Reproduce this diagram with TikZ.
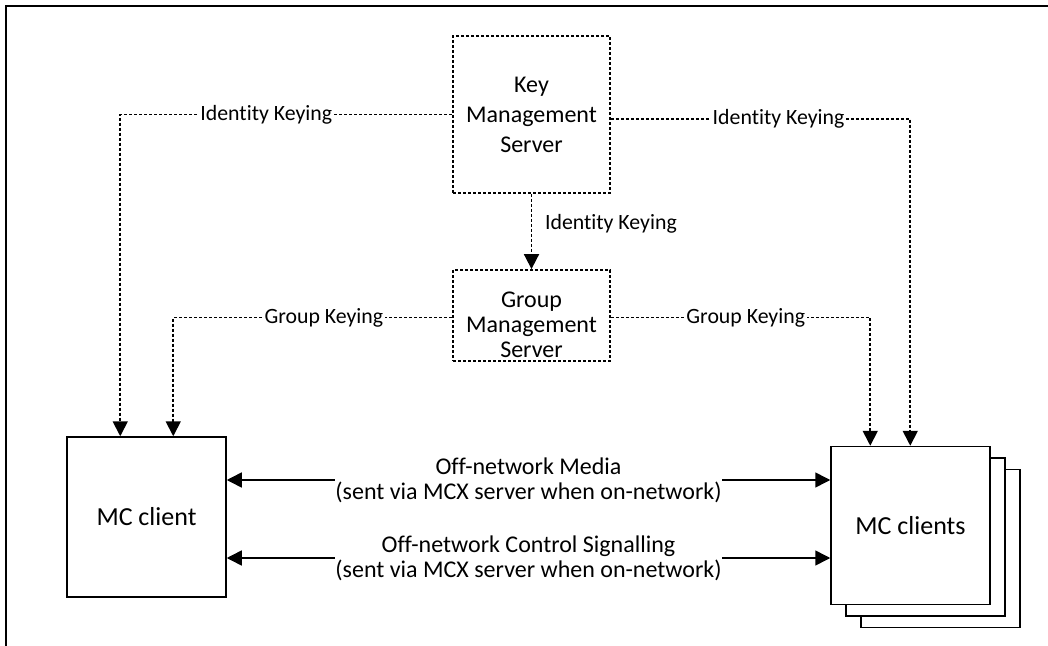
\documentclass[tikz,border=0pt]{standalone}
\usepackage{fontspec}
\setmainfont{Carlito}[Ligatures={NoCommon,NoContextual}]
\usetikzlibrary{arrows.meta,calc}

\begin{document}
\begin{tikzpicture}[x=0.5pt, y=-0.5pt,
    every node/.style={font=\fontsize{10.9}{12}\selectfont},
    keyline/.style={line width=0.9pt, dash pattern=on 1.5pt off 1pt},
    server/.style={draw, keyline, minimum width=78.5pt, minimum height=78.5pt, align=center, inner sep=0pt, font=\fontsize{12}{15}\selectfont},
    client/.style={draw, line width=0.75pt, fill=white, minimum width=79.5pt, minimum height=79pt, font=\fontsize{13}{15}\selectfont},
    keylabel/.style={fill=white, inner sep=1pt},
    medialabel/.style={fill=white, align=center, inner sep=0pt, font=\fontsize{12}{12.5}\selectfont},
    >={Triangle[length=7.5pt, width=7.5pt]}]
    \useasboundingbox (0,0) rectangle (1048,646);
    \draw[line width=1pt] (6,646) -- (6,6) -- (1048,6);

    \node[server] (kms) at (531.5,114.5) {Key\\Management\\Server};
    \node[server, minimum height=45.5pt,
        label={[align=center, font=\fontsize{12}{12.5}\selectfont, yshift=-4.5pt]center:Group\\Management\\Server}] (gms) at (531.5,315.5) {};
    \node[client, minimum height=80pt] (client) at (146.5,517) {MC client};
    % stacked copies behind the MC clients box
    \foreach \i in {2,1}
        \node[client] (clients-\i) at ($(910.5,525.5)+(\i*15,\i*11.5)$) {};
    \node[client] (clients) at (910.5,525.5) {MC clients};

    \coordinate (mediay) at (0,480);
    \coordinate (ctrly) at (0,558);

    \draw[keyline, ->] (kms.west) -| node[keylabel, pos=0.28] {Identity Keying} ([xshift=27pt]client.north west);
    \draw[keyline, ->] ([yshift=-2.25pt]kms.east) -| node[keylabel, pos=0.28] {Identity Keying} ([xshift=40pt]clients.north west);
    \draw[keyline, ->] (kms.south) -- node[right, pos=0.4, xshift=3pt] {Identity Keying} (gms.north);
    \draw[keyline, ->] ([yshift=-1pt]gms.west) -| node[keylabel, pos=0.23] {Group Keying} ([xshift=53.5pt]client.north west);
    \draw[keyline, ->] ([yshift=-1pt]gms.east) -| node[keylabel, pos=0.26] {Group Keying} ([xshift=20pt]clients.north west);

    \draw[line width=0.75pt, <->] (client.east |- mediay) -- node[medialabel] {Off-network Media\\(sent via MCX server when on-network)} (clients.west |- mediay);
    \draw[line width=0.75pt, <->] (client.east |- ctrly) -- node[medialabel] {Off-network Control Signalling\\(sent via MCX server when on-network)} (clients.west |- ctrly);
\end{tikzpicture}
\end{document}
